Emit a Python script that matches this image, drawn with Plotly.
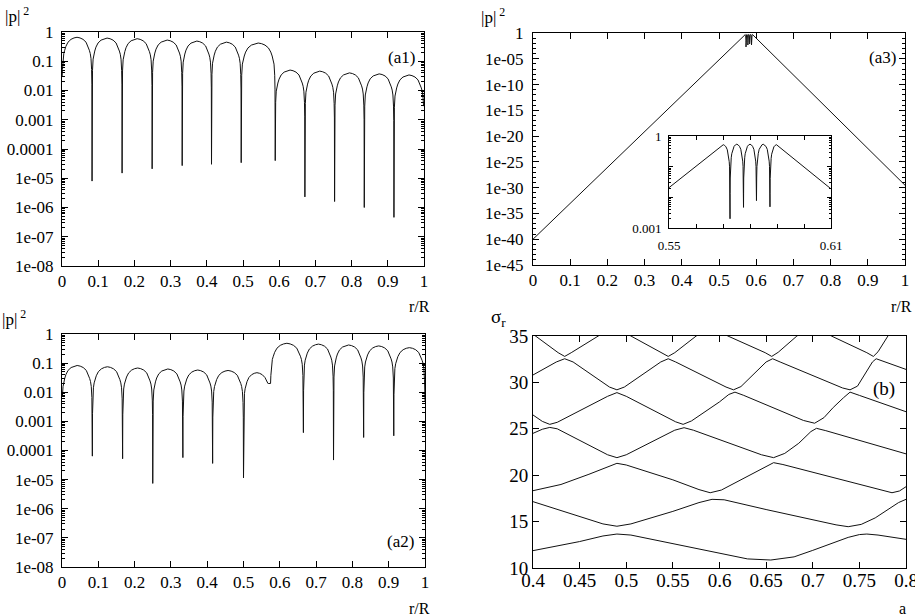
import plotly.graph_objects as go

# ---------------- data ----------------
# common lobe profile between two nodes (fraction of lobe width, value relative to lobe peak)
lobe_frac = [0.006, 0.015, 0.035, 0.06, 0.09, 0.13, 0.2, 0.3, 0.4, 0.5,
             0.6, 0.7, 0.8, 0.87, 0.91, 0.94, 0.965, 0.985, 0.994]
lobe_rel = [0.025, 0.079, 0.19, 0.28, 0.36, 0.49, 0.68, 0.85, 0.95, 1.0,
            0.95, 0.85, 0.68, 0.49, 0.36, 0.28, 0.19, 0.079, 0.025]

# panel (a1)
a1_dip_x = [0.0, 0.083, 0.166, 0.249, 0.332, 0.413, 0.495, 0.589, 0.671, 0.753, 0.835, 0.917, 1.0]
a1_dip_y = [0.03, 8e-6, 1.5e-5, 2.1e-5, 2.7e-5, 3e-5, 3.4e-5, 4e-5, 2.3e-6, 1.6e-6, 1e-6, 4.6e-7, 0.003]
a1_peak_y = [0.66, 0.62, 0.59, 0.53, 0.49, 0.45, 0.42, 0.05, 0.046, 0.04, 0.037, 0.034]

# panel (a2)
a2_dip_x = [0.0, 0.0836, 0.167, 0.25, 0.333, 0.415, 0.5, 0.574, 0.665, 0.748, 0.831, 0.914, 1.0]
a2_dip_y = [0.008, 6.4e-5, 5.2e-5, 7.4e-6, 5.7e-5, 3.6e-5, 1.15e-5, 0.02, 4.1e-4, 4.7e-5, 2.8e-4, 3.2e-4, 0.005]
a2_peak_y = [0.083, 0.075, 0.068, 0.063, 0.058, 0.056, 0.047, 0.48, 0.45, 0.42, 0.39, 0.34]

# panel (a3)
a3_dip_x = [0.5676, 0.5726, 0.5776, 0.5824, 0.5874, 0.5922]
a3_dip_y = [0.5, 0.002, 0.0047, 0.0078, 0.0049, 0.5]
a3_peak_y = [0.52, 0.54, 0.54, 0.54, 0.52]
a3_end_x = [0.0, 1.0]
a3_end_y = [1e-40, 3e-30]
a3_window = [0.5701, 0.5898]

# panel (b): sigma_r versus a
b1_x = [0.4, 0.45, 0.475, 0.49, 0.505, 0.55, 0.6, 0.63, 0.655, 0.68, 0.70, 0.72, 0.738, 0.75, 0.758, 0.77, 0.8]
b1_y = [11.87, 12.85, 13.45, 13.66, 13.55, 12.6, 11.57, 10.98, 10.86, 11.2, 11.9, 12.6, 13.3, 13.6, 13.66, 13.55, 13.09]
b2_x = [0.4, 0.45, 0.475, 0.49, 0.505, 0.55, 0.578, 0.592, 0.605, 0.65, 0.7, 0.725, 0.738, 0.752, 0.767, 0.782, 0.792, 0.8]
b2_y = [17.15, 15.6, 14.75, 14.5, 14.75, 16.1, 17.05, 17.4, 17.35, 16.3, 15.2, 14.65, 14.45, 14.7, 15.4, 16.35, 17.05, 17.4]
b3_x = [0.4, 0.43, 0.46, 0.48, 0.49, 0.5, 0.55, 0.578, 0.59, 0.602, 0.63, 0.65, 0.658, 0.668, 0.72, 0.77, 0.785, 0.793, 0.8]
b3_y = [18.33, 19.0, 20.1, 20.9, 21.28, 21.1, 19.5, 18.45, 18.11, 18.4, 19.9, 21.0, 21.35, 21.15, 19.8, 18.45, 18.11, 18.3, 18.76]
b4_x = [0.4, 0.41, 0.418, 0.426, 0.48, 0.49, 0.5, 0.552, 0.562, 0.572, 0.645, 0.658, 0.67, 0.685, 0.698, 0.704, 0.714, 0.8]
b4_y = [24.51, 24.95, 25.15, 25.0, 22.2, 21.89, 22.2, 24.85, 25.12, 24.85, 22.2, 21.89, 22.35, 23.44, 24.7, 25.05, 24.8, 22.3]
b5_x = [0.4, 0.41, 0.418, 0.426, 0.48, 0.49, 0.5, 0.553, 0.561, 0.57, 0.6, 0.61, 0.6166, 0.626, 0.69, 0.702, 0.712, 0.722, 0.733, 0.74, 0.75, 0.8]
b5_y = [26.49, 25.8, 25.48, 25.7, 28.5, 28.9, 28.5, 25.75, 25.48, 25.85, 27.9, 28.7, 28.95, 28.6, 25.9, 25.6, 26.2, 27.3, 28.35, 28.95, 28.6, 26.84]
b6_x = [0.4, 0.425, 0.434, 0.443, 0.482, 0.49, 0.498, 0.537, 0.545, 0.553, 0.607, 0.615, 0.623, 0.65, 0.657, 0.665, 0.732, 0.74, 0.748, 0.757, 0.764, 0.768, 0.775, 0.8]
b6_y = [30.8, 32.2, 32.55, 32.2, 29.5, 29.2, 29.5, 32.2, 32.55, 32.2, 29.5, 29.2, 29.55, 32.2, 32.55, 32.2, 29.4, 29.2, 29.6, 31.1, 32.2, 32.55, 32.3, 31.4]
b7_x = [0.4, 0.427, 0.434, 0.441, 0.47, 0.488, 0.505, 0.538, 0.545, 0.552, 0.575, 0.592, 0.609, 0.649, 0.656, 0.663, 0.683, 0.70, 0.72, 0.758, 0.765, 0.77, 0.781, 0.79]
b7_y = [35.2, 33.2, 32.8, 33.2, 35.0, 36.0, 35.0, 33.2, 32.8, 33.2, 35.0, 36.0, 35.0, 33.2, 32.8, 33.25, 35.0, 36.0, 35.0, 33.2, 32.8, 33.3, 35.0, 36.5]

# tick labels
a_xtick_vals = [0, 0.1, 0.2, 0.3, 0.4, 0.5, 0.6, 0.7, 0.8, 0.9, 1.0]
a_xtick_text = ["0", "0.1", "0.2", "0.3", "0.4", "0.5", "0.6", "0.7", "0.8", "0.9", "1"]
a_ytick_vals = [1, 0.1, 0.01, 0.001, 1e-4, 1e-5, 1e-6, 1e-7, 1e-8]
a_ytick_text = ["1", "0.1", "0.01", "0.001", "0.0001", "1e-05", "1e-06", "1e-07", "1e-08"]
a3_ytick_vals = [1, 1e-5, 1e-10, 1e-15, 1e-20, 1e-25, 1e-30, 1e-35, 1e-40, 1e-45]
a3_ytick_text = ["1", "1e-05", "1e-10", "1e-15", "1e-20", "1e-25", "1e-30", "1e-35", "1e-40", "1e-45"]
ins_xtick_vals = [0.55, 0.61]
ins_xtick_text = ["0.55", "0.61"]
ins_xtick_unlabeled = [0.56, 0.57, 0.58, 0.59, 0.60]
ins_ytick_vals = [1, 0.001]
ins_ytick_text = ["1", "0.001"]
ins_ytick_unlabeled = [0.1, 0.01]
b_xtick_vals = [0.4, 0.45, 0.5, 0.55, 0.6, 0.65, 0.7, 0.75, 0.8]
b_xtick_text = ["0.4", "0.45", "0.5", "0.55", "0.6", "0.65", "0.7", "0.75", "0.8"]
b_ytick_vals = [10, 15, 20, 25, 30, 35]
b_ytick_text = ["10", "15", "20", "25", "30", "35"]


def build_lobes(dx, dy, pk):
    xs, ys = [], []
    for i in range(len(pk)):
        x0, x1 = dx[i], dx[i + 1]
        xs.append(x0)
        ys.append(dy[i])
        for f, r in zip(lobe_frac, lobe_rel):
            floor = dy[i] if f < 0.5 else dy[i + 1]
            xs.append(x0 + f * (x1 - x0))
            ys.append(max(pk[i] * r, floor))
    xs.append(dx[-1])
    ys.append(dy[-1])
    return xs, ys


a1_x, a1_y = build_lobes(a1_dip_x, a1_dip_y, a1_peak_y)
a2_x, a2_y = build_lobes(a2_dip_x, a2_dip_y, a2_peak_y)
lx, ly = build_lobes(a3_dip_x, a3_dip_y, a3_peak_y)
keep = [(x, y) for x, y in zip(lx, ly) if a3_window[0] - 1e-9 <= x <= a3_window[1] + 1e-9]
a3_x = [a3_end_x[0]] + [k[0] for k in keep] + [a3_end_x[1]]
a3_y = [a3_end_y[0]] + [k[1] for k in keep] + [a3_end_y[1]]

# ---------------- figure ----------------
W, H = 915, 616
FONT = "Liberation Serif, Times New Roman, serif"
LC = "#111111"


def dx_(a, b):
    return [a / W, b / W]


def dy_(top, bottom):
    return [1 - bottom / H, 1 - top / H]


def log_minor(lo, hi):
    vals = []
    for e in range(lo, hi):
        for m in range(2, 10):
            vals.append(m * 10.0 ** e)
    return vals


fig = go.Figure()
line = dict(color=LC, width=1)
fig.add_trace(go.Scatter(x=a1_x, y=a1_y, mode="lines", line=line, xaxis="x", yaxis="y"))
fig.add_trace(go.Scatter(x=a3_x, y=a3_y, mode="lines", line=line, xaxis="x2", yaxis="y2"))
fig.add_trace(go.Scatter(x=a2_x, y=a2_y, mode="lines", line=line, xaxis="x3", yaxis="y3"))
for bx, by in [(b1_x, b1_y), (b2_x, b2_y), (b3_x, b3_y), (b4_x, b4_y), (b5_x, b5_y), (b6_x, b6_y), (b7_x, b7_y)]:
    fig.add_trace(go.Scatter(x=bx, y=by, mode="lines", line=line, xaxis="x4", yaxis="y4"))
fig.add_trace(go.Scatter(x=a3_x, y=a3_y, mode="lines", line=line, xaxis="x5", yaxis="y5"))
# invisible trace on the overlay axes that carry the unlabeled inset ticks
fig.add_trace(go.Scatter(x=[0.55], y=[0.01], mode="markers", marker=dict(size=1, opacity=0),
                         hoverinfo="skip", xaxis="x6", yaxis="y6"))

TF = dict(family=FONT, size=17, color="#000")
base = dict(showline=True, linecolor="#000", linewidth=1, mirror="allticks", ticks="inside",
            ticklen=6, tickcolor="#000", tickwidth=1, showgrid=False, zeroline=False,
            tickfont=TF, tickmode="array", automargin=False, ticklabeloverflow="allow")


def ax(**kw):
    d = dict(base)
    d.update(kw)
    return d


lay = dict(
    width=W, height=H, margin=dict(l=0, r=0, t=0, b=0, pad=0, autoexpand=False),
    paper_bgcolor="white", plot_bgcolor="white", showlegend=False,
    font=dict(family=FONT, color="#000"),
)
# a1
lay["xaxis"] = ax(domain=dx_(62, 424), range=[0, 1], anchor="y", tickvals=a_xtick_vals, ticktext=a_xtick_text)
lay["yaxis"] = ax(domain=dy_(32, 266), type="log", range=[-8, 0], anchor="x", tickvals=a_ytick_vals,
                  ticktext=a_ytick_text, ticklabelstandoff=4,
                  minor=dict(ticks="inside", ticklen=3, tickcolor="#000", tickmode="array", tickvals=log_minor(-8, 0)))
# a3
lay["xaxis2"] = ax(domain=dx_(533, 905), range=[0, 1], anchor="y2", tickvals=a_xtick_vals, ticktext=a_xtick_text)
lay["yaxis2"] = ax(domain=dy_(33, 265), type="log", range=[-45, 0], anchor="x2", tickvals=a3_ytick_vals,
                   ticktext=a3_ytick_text, ticklabelstandoff=5,
                   minor=dict(ticks="inside", ticklen=3, tickcolor="#000", tickmode="array",
                              tickvals=[10.0 ** (-k) for k in range(46) if k % 5 != 0]))
# a2
lay["xaxis3"] = ax(domain=dx_(62, 425), range=[0, 1], anchor="y3", tickvals=a_xtick_vals, ticktext=a_xtick_text)
lay["yaxis3"] = ax(domain=dy_(334, 567), type="log", range=[-8, 0], anchor="x3", tickvals=a_ytick_vals,
                   ticktext=a_ytick_text, ticklabelstandoff=4,
                   minor=dict(ticks="inside", ticklen=3, tickcolor="#000", tickmode="array", tickvals=log_minor(-8, 0)))
# b
TFB = dict(family=FONT, size=19, color="#000")
lay["xaxis4"] = ax(domain=dx_(533, 906), range=[0.4, 0.8], anchor="y4", tickvals=b_xtick_vals, ticktext=b_xtick_text,
                   tickfont=TFB, ticklabelstandoff=-5)
lay["yaxis4"] = ax(domain=dy_(336, 568), range=[10, 35], anchor="x4", tickvals=b_ytick_vals, ticktext=b_ytick_text,
                   tickfont=TFB, ticklabelstandoff=0)
# inset
TFI = dict(family=FONT, size=13, color="#000")
lay["xaxis5"] = ax(domain=dx_(669, 831), range=[0.55, 0.61], anchor="y5", tickvals=ins_xtick_vals,
                   ticktext=ins_xtick_text, ticklen=4, tickfont=TFI, ticklabelstandoff=5)
lay["yaxis5"] = ax(domain=dy_(136, 228), type="log", range=[-3, 0], anchor="x5", tickvals=ins_ytick_vals,
                   ticktext=ins_ytick_text, ticklen=4, tickfont=TFI, ticklabelstandoff=4,
                   minor=dict(ticks="inside", ticklen=2, tickcolor="#000", tickmode="array", tickvals=log_minor(-3, 0)))
lay["xaxis6"] = dict(overlaying="x5", domain=dx_(669, 831), range=[0.55, 0.61], anchor="y5", tickmode="array",
                     tickvals=ins_xtick_unlabeled, showticklabels=False, ticks="inside", ticklen=4,
                     tickcolor="#000", mirror="allticks", showline=False, showgrid=False, zeroline=False,
                     automargin=False)
lay["yaxis6"] = dict(overlaying="y5", domain=dy_(136, 228), type="log", range=[-3, 0], anchor="x5",
                     tickmode="array", tickvals=ins_ytick_unlabeled, showticklabels=False, ticks="inside",
                     ticklen=4, tickcolor="#000", mirror="allticks", showline=False, showgrid=False,
                     zeroline=False, automargin=False)

fig.update_layout(**lay)


def note(text, px, py, size=17, xanchor="center"):
    fig.add_annotation(text=text, x=px / W, y=1 - py / H, xref="paper", yref="paper", showarrow=False,
                       xanchor=xanchor, yanchor="middle", font=dict(family=FONT, size=size, color="#000"))


note("|p|<sup> 2</sup>", 3, 15, xanchor="left")
note("|p|<sup> 2</sup>", 479, 16, xanchor="left")
note("|p|<sup> 2</sup>", 0, 318, xanchor="left")
note("σ<sub>r</sub>", 489, 318, size=19, xanchor="left")
note("r/R", 419, 306, size=16)
note("r/R", 901, 306, size=16)
note("r/R", 419, 608, size=16)
note("a", 902, 608, size=16)
note("(a1)", 401, 57)
note("(a3)", 882, 58)
note("(a2)", 400, 541)
note("(b)", 884, 389, size=19)

fig.write_html("out.html", config={"responsive": False, "displayModeBar": False},
               post_script="document.body.style.margin='0px';document.body.style.padding='0px';"
                           "document.body.style.overflow='hidden';")
